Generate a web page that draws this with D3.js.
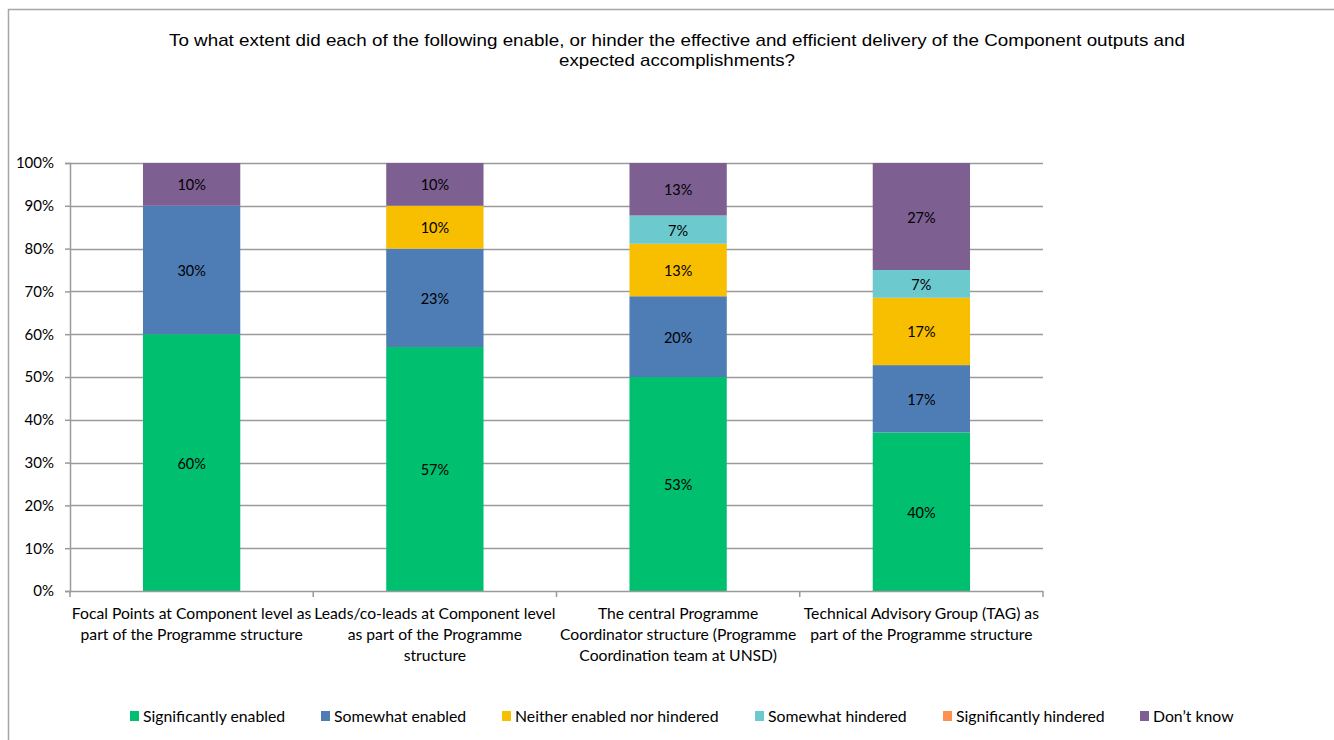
<!DOCTYPE html>
<html>
<head>
<meta charset="utf-8">
<script src="https://cdn.jsdelivr.net/npm/d3@7"></script>
<style>
  body { margin: 0; background: white; }
  text { font-family: Lato, "Open Sans", sans-serif; }
</style>
</head>
<body>
<div id="chart"></div>
<script>
// data

const categories = ["focal", "leads", "central", "tag"];
const categoryLines = [
    ["Focal Points at Component level as", "part of the Programme structure"],
    ["Leads/co-leads at Component level", "as part of the Programme", "structure"],
    ["The central Programme", "Coordinator structure (Programme", "Coordination team at UNSD)"],
    ["Technical Advisory Group (TAG) as", "part of the Programme structure"]
];
const seriesNames = ["Significantly enabled", "Somewhat enabled", "Neither enabled nor hindered",
                     "Somewhat hindered", "Significantly hindered", "Don\u2019t know"];
const seriesColors = ["#00bf6f", "#4e7cb5", "#f8be00", "#6cc9cd", "#ff9050", "#7e5f91"];
// values as labelled (percent of respondents), one array per series
const sigEnabled   = [60, 57, 53, 40];
const someEnabled  = [30, 23, 20, 17];
const neither      = [0, 10, 13, 17];
const someHindered = [0, 0, 7, 7];
const sigHindered  = [0, 0, 0, 0];
const dontKnow     = [10, 10, 13, 27];
const yTicks = [0, 0.1, 0.2, 0.3, 0.4, 0.5, 0.6, 0.7, 0.8, 0.9, 1];

const titleLines = [
    "To what extent did each of the following enable, or hinder the effective and efficient delivery of the Component outputs and",
    "expected accomplishments?"
];
const titleWidths = [1016, 236];

// build table for d3.stack
const allSeries = [sigEnabled, someEnabled, neither, someHindered, sigHindered, dontKnow];
const table = categories.map((c, i) => {
    const row = {cat: c};
    seriesNames.forEach((s, j) => { row[s] = allSeries[j][i]; });
    return row;
});

const stacked = d3.stack()
    .keys(seriesNames)
    .offset(d3.stackOffsetExpand)(table);

// svg

const width = 1334;
const height = 740;
const margin = {top: 163, left: 70, right: 291, bottom: 149};

const svg = d3.select("#chart")
    .append("svg")
    .attr("width", width)
    .attr("height", height);

svg.append("rect")
    .attr("x", 8.5).attr("y", 9.5)
    .attr("width", width).attr("height", height)
    .attr("fill", "white")
    .attr("stroke", "#a6a6a6")
    .attr("stroke-width", 1.5);

const x = d3.scaleBand()
    .domain(categories)
    .range([margin.left, width - margin.right])
    .paddingInner(0.6)
    .paddingOuter(0.3);

const y = d3.scaleLinear()
    .domain([0, 1])
    .range([height - margin.bottom, margin.top]);

// title
svg.append("g")
    .selectAll("text")
    .data(titleLines)
    .join("text")
    .attr("text-anchor", "middle")
    .style("font-family", "'Liberation Sans', Arial, sans-serif")
    .style("font-size", "17px")
    .attr("x", 677)
    .attr("y", (d, i) => 46 + i * 20)
    .attr("textLength", (d, i) => titleWidths[i])
    .attr("lengthAdjust", "spacingAndGlyphs")
    .text(d => d);

// gridlines
svg.append("g")
    .selectAll("line")
    .data(yTicks.slice(1))
    .join("line")
    .attr("x1", margin.left)
    .attr("x2", width - margin.right)
    .attr("y1", d => Math.round(y(d)) + 0.5)
    .attr("y2", d => Math.round(y(d)) + 0.5)
    .attr("stroke", "#9a9a9a")
    .attr("stroke-width", 1.5);

// y axis
const yAxis = svg.append("g")
    .attr("transform", `translate(${margin.left},0)`)
    .call(d3.axisLeft(y).tickValues(yTicks).tickFormat(d3.format(".0%")).tickSize(5).tickPadding(11));
yAxis.select(".domain").attr("stroke", "#9a9a9a").attr("stroke-width", 1.5);
yAxis.selectAll(".tick line").attr("stroke", "#9a9a9a").attr("stroke-width", 1.5);
yAxis.selectAll(".tick text")
    .style("font-family", "Lato, sans-serif")
    .style("font-size", "15px")
    .attr("fill", "#000");

// bars
const groups = svg.append("g")
    .selectAll("g")
    .data(stacked)
    .join("g")
    .attr("fill", (d, i) => seriesColors[i]);

groups.selectAll("rect")
    .data(d => d)
    .join("rect")
    .attr("x", d => x(d.data.cat))
    .attr("y", d => y(d[1]))
    .attr("width", x.bandwidth())
    .attr("height", d => y(d[0]) - y(d[1]));

// data labels
groups.each(function (s) {
    d3.select(this).selectAll("text")
        .data(s.filter(d => d.data[s.key] > 0))
        .join("text")
        .attr("x", d => x(d.data.cat) + x.bandwidth() / 2)
        .attr("y", d => (y(d[0]) + y(d[1])) / 2 + 6)
        .attr("text-anchor", "middle")
        .attr("fill", "#000")
        .style("font-size", "14.5px")
        .text(d => d.data[s.key] + "%");
});

// x axis
const step = x.step();
const xAxis = svg.append("g");
xAxis.append("line")
    .attr("x1", margin.left).attr("x2", width - margin.right)
    .attr("y1", y(0) + 0.5).attr("y2", y(0) + 0.5)
    .attr("stroke", "#9a9a9a").attr("stroke-width", 1.5);
xAxis.selectAll(".sep")
    .data(d3.range(categories.length + 1))
    .join("line")
    .attr("x1", i => margin.left + i * step)
    .attr("x2", i => margin.left + i * step)
    .attr("y1", y(0)).attr("y2", y(0) + 6)
    .attr("stroke", "#9a9a9a").attr("stroke-width", 1.5);

xAxis.selectAll(".cat")
    .data(categories)
    .join("text")
    .attr("text-anchor", "middle")
    .style("font-size", "15.7px")
    .attr("fill", "#000")
    .each(function (c, i) {
        d3.select(this).selectAll("tspan")
            .data(categoryLines[i])
            .join("tspan")
            .attr("x", x(c) + x.bandwidth() / 2)
            .attr("y", (d, k) => 619 + k * 21)
            .text(d => d);
    });

// legend
const legendX = [130, 321, 502, 755, 943, 1140];
const legend = svg.append("g")
    .selectAll("g")
    .data(seriesNames)
    .join("g")
    .attr("transform", (d, i) => `translate(${legendX[i]},717)`);
legend.append("rect")
    .attr("x", 0).attr("y", -6)
    .attr("width", 9).attr("height", 10)
    .attr("fill", (d, i) => seriesColors[i]);
legend.append("text")
    .attr("x", 13).attr("y", 5)
    .style("font-size", "15.8px")
    .attr("fill", "#000")
    .text(d => d);
</script>
</body>
</html>
